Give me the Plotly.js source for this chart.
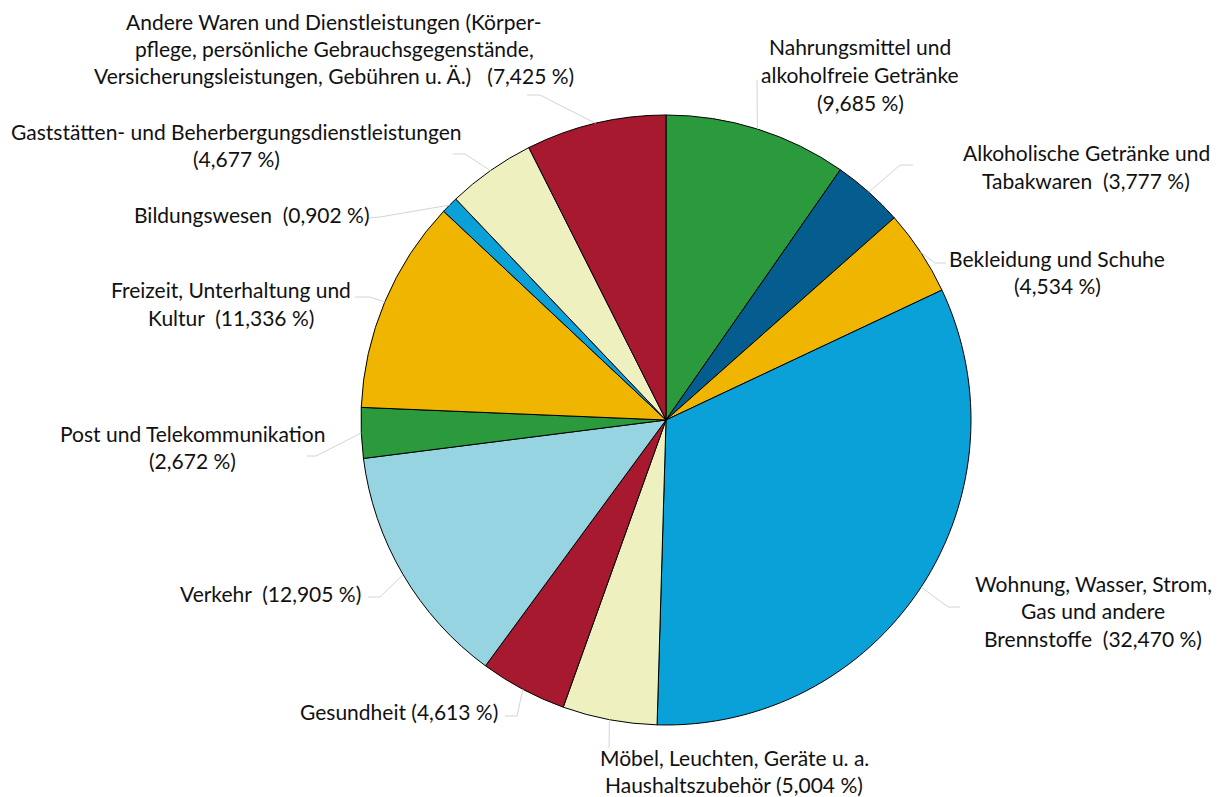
<!DOCTYPE html>
<html><head><meta charset="utf-8">
<script src="https://cdn.plot.ly/plotly-3.0.1.min.js"></script>
<style>html,body{margin:0;padding:0;background:#fff;}#chart{width:1217px;height:797px;}</style>
</head><body><div id="chart"></div>
<script>
// ---- data ----
const categories = [
  "Nahrungsmittel und alkoholfreie Getränke",
  "Alkoholische Getränke und Tabakwaren",
  "Bekleidung und Schuhe",
  "Wohnung, Wasser, Strom, Gas und andere Brennstoffe",
  "Möbel, Leuchten, Geräte u. a. Haushaltszubehör",
  "Gesundheit",
  "Verkehr",
  "Post und Telekommunikation",
  "Freizeit, Unterhaltung und Kultur",
  "Bildungswesen",
  "Gaststätten- und Beherbergungsdienstleistungen",
  "Andere Waren und Dienstleistungen (Körperpflege, persönliche Gebrauchsgegenstände, Versicherungsleistungen, Gebühren u. Ä.)"
];
const values = [9.685, 3.777, 4.534, 32.470, 5.004, 4.613, 12.905, 2.672, 11.336, 0.902, 4.677, 7.425];
const labelLines = [
  ["Nahrungsmittel und", "alkoholfreie Getränke", "({p})"],
  ["Alkoholische Getränke und", "Tabakwaren  ({p})"],
  ["Bekleidung und Schuhe", "({p})"],
  ["Wohnung, Wasser, Strom,", "Gas und andere", "Brennstoffe  ({p})"],
  ["Möbel, Leuchten, Geräte u. a.", "Haushaltszubehör ({p})"],
  ["Gesundheit ({p})"],
  ["Verkehr  ({p})"],
  ["Post und Telekommunikation", "({p})"],
  ["Freizeit, Unterhaltung und", "Kultur  ({p})"],
  ["Bildungswesen  ({p})"],
  ["Gaststätten- und Beherbergungsdienstleistungen", "({p})"],
  ["Andere Waren und Dienstleistungen (Körper-", "pflege, persönliche Gebrauchsgegenstände,", "Versicherungsleistungen, Gebühren u. Ä.)   ({p})"]
];
const colors = ["#2b9a3c", "#045d8e", "#f0b500", "#0aa0d8", "#eef0bf", "#a6192e", "#97d4e1", "#2b9a3c", "#f0b500", "#0aa0d8", "#eef0bf", "#a6192e"];

// ---- layout (pixels) ----
const W = 1217, H = 797, CX = 666, CY = 420, R = 305;
// [x, firstLineY, xanchor]
const labelPos = [
  [860, 47, "center"], [1086, 153, "center"], [1057, 258, "center"], [1093, 583, "center"],
  [734, 757, "center"], [500, 711, "right"], [363, 593, "right"], [192, 433, "center"],
  [231, 290, "center"], [372, 214, "right"], [236, 131, "center"], [334, 21, "center"]
];
// leader line points after the pie-edge point
const leaderPts = [
  [[757, 80]], [[900, 165], [913, 165]], [[935, 263], [946, 263]], [[948, 607], [960, 607]],
  [[609, 748]], [[517, 716], [505, 716]], [[380, 597], [368, 597]], [[316, 456], [307, 456]],
  [[370, 297], [355, 297]], [[380, 217], [368, 218]], [[465, 154], [453, 154]], [[540, 95], [527, 95]]
];
const LINE = 27.5;
const px = x => x / W, py = y => 1 - y / H;
const fmt = v => v.toFixed(3).replace('.', ',') + ' %';

const total = values.reduce((a, b) => a + b, 0);
const annotations = [], shapes = [];
let cum = 0;
values.forEach((v, i) => {
  const mid = (cum + v / 2) / total * 2 * Math.PI;
  cum += v;
  const ex = CX + R * Math.sin(mid), ey = CY - R * Math.cos(mid);
  let path = `M ${px(ex)} ${py(ey)}`;
  leaderPts[i].forEach(p => { path += ` L ${px(p[0])} ${py(p[1])}`; });
  shapes.push({type: 'path', xref: 'paper', yref: 'paper', path: path, line: {color: '#d4d4d4', width: 1}});
  const [lx, ly, anc] = labelPos[i];
  labelLines[i].forEach((t, k) => {
    annotations.push({
      xref: 'paper', yref: 'paper', x: px(lx), y: py(ly + k * LINE),
      xanchor: anc, yanchor: 'middle', showarrow: false,
      text: t.replace('{p}', fmt(v)),
      font: {family: 'Lato, "Open Sans", sans-serif', size: 21, color: '#111'}
    });
  });
});

const trace = {
  type: 'pie', values: values, labels: categories, sort: false, direction: 'clockwise', rotation: 0,
  textinfo: 'none', hoverinfo: 'label+percent',
  marker: {colors: colors, line: {color: '#000', width: 1}},
  domain: {x: [px(CX - R), px(CX + R)], y: [py(CY + R), py(CY - R)]}
};
Plotly.newPlot('chart', [trace], {
  width: W, height: H, margin: {l: 0, r: 0, t: 0, b: 0},
  showlegend: false, paper_bgcolor: '#fff',
  annotations: annotations, shapes: shapes
}, {displayModeBar: false, staticPlot: true});
</script></body></html>
